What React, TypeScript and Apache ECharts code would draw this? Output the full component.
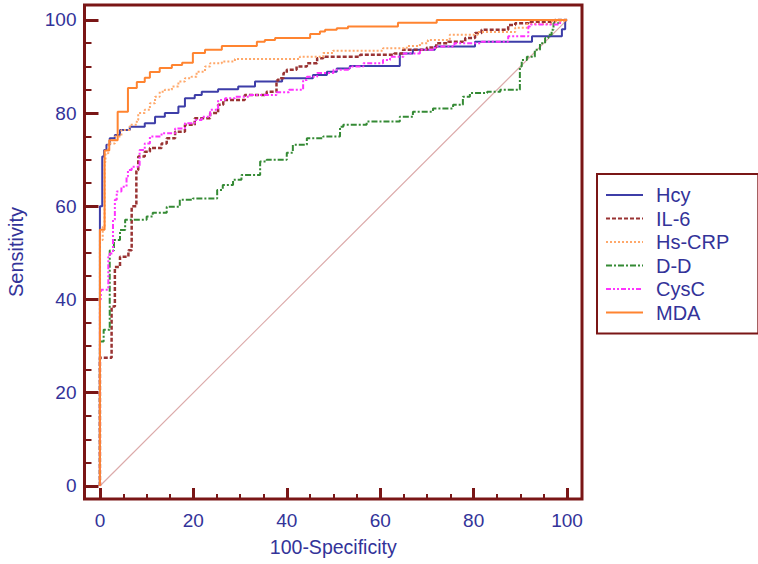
import React, { useEffect, useRef } from 'react';
import * as echarts from 'echarts';

const xMajorTicks = [0, 20, 40, 60, 80, 100];
const yMajorTicks = [0, 20, 40, 60, 80, 100];
const minorTicks = [5, 10, 15, 25, 30, 35, 45, 50, 55, 65, 70, 75, 85, 90, 95];

const seriesNames = ['Hcy', 'IL-6', 'Hs-CRP', 'D-D', 'CysC', 'MDA'];

const hcy = [[0,0],[0.5,60],[0.9,70.7],[1.4,72.1],[2.1,73.2],[3.2,74.6],[4.3,75.3],[6.4,76.4],[9.6,77.1],[11.8,77.8],[13.9,79.2],[16.8,80.0],[18.2,81.4],[20.3,83.2],[21.8,83.9],[25.3,84.6],[29.6,85.1],[33.2,85.7],[39.0,86.8],[45.6,87.5],[48.6,88.2],[50.7,88.9],[53.5,89.6],[64.2,90.1],[64.2,92.1],[67.0,92.8],[71.7,93.6],[80.3,94.3],[92.5,95.3],[98.9,96.5],[99.6,98.0],[100,100]];

const il6 = [[0,0],[2.5,27.5],[3.2,38.5],[4.3,47.0],[6.1,49.2],[6.8,50.6],[7.8,60.0],[8.2,67.8],[9.6,70.7],[10.7,71.7],[13.2,72.5],[14.3,73.5],[16.1,74.6],[18.2,76.0],[20.3,77.5],[23.6,78.9],[25.3,80.0],[26.4,81.8],[31.0,82.8],[35.7,83.9],[37.8,84.6],[38.2,87.0],[39.3,87.5],[40.0,88.6],[42.1,89.3],[44.3,90.0],[46.5,90.7],[47.8,91.8],[55.7,92.1],[63.0,92.5],[64.9,92.8],[70.0,93.6],[72.0,94.1],[74.6,95.0],[78.2,95.3],[80.3,96.1],[81.7,97.2],[87.4,97.9],[88.9,98.9],[91.7,99.3],[97.4,99.6],[100,100]];

const hsCrp = [[0,0],[0.6,52.8],[1.0,55.6],[1.2,69.5],[1.8,71.4],[3.2,73.5],[4.6,75.0],[6.4,76.4],[7.9,77.5],[8.2,78.5],[9.6,80.0],[10.7,80.7],[11.8,82.1],[12.8,83.5],[13.9,84.6],[15.4,85.0],[16.8,85.7],[18.2,86.8],[19.6,87.5],[20.7,87.8],[22.5,88.9],[23.6,90.0],[26.1,90.7],[28.9,91.1],[42.8,91.6],[47.8,92.1],[49.9,92.9],[60.6,93.4],[65.7,93.9],[68.5,94.4],[70.2,95.0],[74.9,95.7],[80.9,96.8],[88.9,97.4],[91.4,98.3],[96.8,99.1],[99.5,99.7],[100,100]];

const dd = [[0,0],[0.8,31.0],[2.1,33.5],[2.1,49.5],[3.0,50.5],[4.3,52.8],[5.4,54.9],[6.4,57.1],[10.0,57.1],[11.3,57.8],[14.3,58.6],[17.1,59.9],[19.9,61.4],[25.1,61.7],[26.3,63.5],[28.5,64.6],[30.3,65.7],[34.3,66.7],[35.7,69.6],[40.0,70.0],[41.3,71.5],[44.3,73.2],[47.8,74.6],[51.4,75.0],[52.1,77.1],[57.1,77.5],[64.2,78.2],[67.0,79.2],[71.3,80.3],[75.6,81.0],[77.7,81.8],[79.2,83.5],[82.9,84.3],[85.7,84.6],[89.9,85.0],[90.3,90.0],[91.4,91.4],[93.1,92.1],[94.2,93.6],[95.3,95.0],[96.0,96.1],[96.7,96.8],[97.1,97.9],[98.1,99.3],[100,100]];

const cysC = [[0,0],[0.2,40.0],[1.8,42.1],[2.1,49.2],[2.8,49.9],[3.2,57.1],[3.6,61.4],[4.6,63.2],[5.7,64.2],[6.0,66.4],[6.8,67.8],[8.5,68.5],[9.6,72.1],[10.7,73.5],[13.2,75.0],[16.1,75.7],[18.2,76.7],[20.3,77.8],[21.8,78.5],[23.6,79.2],[25.3,80.7],[26.8,82.8],[28.9,83.2],[32.1,83.5],[37.8,83.9],[40.5,84.5],[43.5,85.0],[44.3,87.1],[46.5,87.8],[50.0,88.6],[53.5,89.3],[56.4,90.0],[60.6,90.7],[62.1,91.4],[65.0,92.1],[68.5,92.8],[71.7,93.6],[75.9,94.3],[81.7,95.0],[87.4,95.3],[91.7,96.5],[92.1,98.6],[98.5,99.0],[100,100]];

const mda = [[0,0],[1.0,55.0],[1.0,70.6],[2.0,72.0],[3.8,74.2],[3.8,80.3],[6.0,80.3],[6.0,84.5],[7.9,85.4],[9.6,86.7],[10.7,87.6],[12.8,88.8],[15.4,89.7],[17.6,90.3],[19.9,90.8],[19.9,92.9],[22.5,92.9],[26.1,93.6],[29.6,94.4],[33.6,94.4],[35.3,95.3],[37.5,95.7],[45.0,96.1],[47.1,97.0],[48.2,97.5],[50.7,97.9],[53.1,98.2],[54.2,98.6],[63.8,98.6],[72.1,99.4],[100,100]];

const chanceLine = [[0, 0], [100, 100]];

const FRAME = '#7a1616';
const TEXT = '#333399';
const FONT = 'Liberation Sans, Arial, Helvetica, sans-serif';

export default function App() {
  const ref = useRef<HTMLDivElement>(null);

  useEffect(() => {
    if (!ref.current) return;
    const chart = echarts.init(ref.current, undefined, { renderer: 'svg' });

    const curves = [
      { name: 'Hcy', data: hcy, color: '#3d3da8', type: 'solid' as any, width: 2 },
      { name: 'IL-6', data: il6, color: '#993333', type: [4, 2], width: 2.5 },
      { name: 'Hs-CRP', data: hsCrp, color: '#ffa86a', type: [2, 2], width: 2 },
      { name: 'D-D', data: dd, color: '#348a34', type: [6, 2, 2, 2], width: 2 },
      { name: 'CysC', data: cysC, color: '#ff33ff', type: [5, 2, 2, 2, 2, 2], width: 2 },
      { name: 'MDA', data: mda, color: '#ff8430', type: 'solid' as any, width: 2 },
    ];

    const xMin = -3.3, xMax = 103.2, yMin = -2.8, yMax = 103.2;

    const option: any = {
      animation: false,
      backgroundColor: '#ffffff',
      textStyle: { fontFamily: FONT },
      grid: {
        left: 84.5, top: 5, width: 497.5, height: 494,
        containLabel: false, outerBoundsMode: 'none',
        show: true, borderColor: FRAME, borderWidth: 3, backgroundColor: 'transparent',
      },
      legend: {
        data: seriesNames,
        orient: 'vertical',
        left: 597, top: 174,
        backgroundColor: '#ffffff',
        borderColor: FRAME, borderWidth: 2,
        padding: [11, 29, 11, 8],
        itemWidth: 37, itemHeight: 14, itemGap: 3.5,
        itemStyle: { opacity: 0 },
        textStyle: { color: TEXT, fontSize: 20, fontFamily: FONT, padding: [0, 0, 0, 8] },
      },
      xAxis: [
        {
          type: 'value', min: xMin, max: xMax, position: 'bottom',
          name: '100-Specificity', nameLocation: 'middle', nameGap: 38,
          nameTextStyle: { color: TEXT, fontSize: 19.5, fontFamily: FONT },
          axisLine: { show: false, onZero: false },
          splitLine: { show: false },
          axisTick: { show: true, inside: true, length: 11, customValues: xMajorTicks, lineStyle: { color: FRAME, width: 3 } },
          axisLabel: { show: true, customValues: xMajorTicks, margin: 12, color: TEXT, fontSize: 19, fontFamily: FONT },
        },
        {
          type: 'value', min: xMin, max: xMax, position: 'bottom',
          axisLine: { show: false, onZero: false },
          splitLine: { show: false },
          axisTick: { show: true, inside: true, length: 5, customValues: minorTicks, lineStyle: { color: FRAME, width: 2 } },
          axisLabel: { show: false },
        },
      ],
      yAxis: [
        {
          type: 'value', min: yMin, max: yMax, position: 'left',
          name: 'Sensitivity', nameLocation: 'middle', nameGap: 59,
          nameTextStyle: { color: TEXT, fontSize: 20, fontFamily: FONT },
          axisLine: { show: false, onZero: false },
          splitLine: { show: false },
          axisTick: { show: true, inside: true, length: 14, customValues: yMajorTicks, lineStyle: { color: FRAME, width: 3 } },
          axisLabel: { show: true, customValues: yMajorTicks, margin: 8, color: TEXT, fontSize: 19, fontFamily: FONT },
        },
        {
          type: 'value', min: yMin, max: yMax, position: 'left',
          axisLine: { show: false, onZero: false },
          splitLine: { show: false },
          axisTick: { show: true, inside: true, length: 7, customValues: minorTicks, lineStyle: { color: FRAME, width: 2 } },
          axisLabel: { show: false },
        },
      ],
      series: [
        {
          name: 'chance', type: 'line', data: chanceLine, xAxisIndex: 0, yAxisIndex: 0,
          symbol: 'none', silent: true,
          lineStyle: { color: '#dcaaaa', width: 1.2 },
          itemStyle: { color: '#dcaaaa' },
        },
        ...curves.map((c) => ({
          name: c.name, type: 'line', data: c.data, xAxisIndex: 0, yAxisIndex: 0,
          step: 'start', symbol: 'none',
          lineStyle: { color: c.color, width: c.width, type: c.type },
          itemStyle: { color: c.color },
        })),
      ],
    };

    chart.setOption(option);
    return () => chart.dispose();
  }, []);

  return (
    <div
      ref={ref}
      style={{ position: 'absolute', left: 0, top: 0, width: 758, height: 564, background: '#fff' }}
    />
  );
}
